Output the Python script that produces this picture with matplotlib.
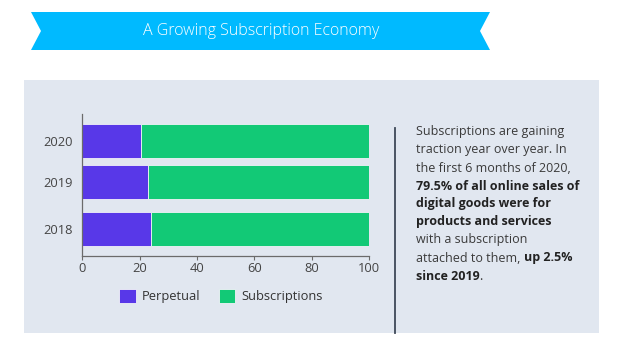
# A growing subscription economy - stacked horizontal bars with a side note
import matplotlib.pyplot as plt
from matplotlib.patches import Polygon, Rectangle

years = ['2018', '2019', '2020']
perpetual = [24, 23, 20.5]
subscriptions = [76, 77, 79.5]
x_ticks = [0, 20, 40, 60, 80, 100]

W, H = 624, 353
PURPLE = '#5838e8'
GREEN = '#12c976'
PANEL = '#e1e7f0'
BLUE = '#00baff'
FONT = 'Open Sans'


def fx(x):
    return x / W


def fy(y):
    return 1 - y / H


fig = plt.figure(figsize=(W / 100, H / 100), dpi=100)
fig.patch.set_facecolor('white')

# background panel
fig.patches.append(Rectangle((fx(24), fy(333)), fx(599) - fx(24), fy(80) - fy(333),
                             transform=fig.transFigure, facecolor=PANEL,
                             edgecolor='none', zorder=-2))

# ribbon banner
pts = [(31, 12), (490, 12), (480, 31), (490, 50), (31, 50), (41, 31)]
fig.patches.append(Polygon([(fx(a), fy(b)) for a, b in pts], closed=True,
                           transform=fig.transFigure, facecolor=BLUE,
                           edgecolor='none', zorder=-1))
fig.text(fx(261), fy(31), 'A Growing Subscription Economy', color='white',
         fontsize=11.5, family=FONT, fontweight='light', ha='center', va='center')

# chart axes
ax = fig.add_axes([fx(82.3), fy(256), fx(369) - fx(82.3), fy(114) - fy(256)])
ax.set_facecolor('none')
ypos = [0, 1.06, 2]  # uneven spacing as in the original
ax.barh(ypos, perpetual, height=0.77, color=PURPLE, edgecolor='#f2f2f8',
        linewidth=0.6, label='Perpetual')
ax.barh(ypos, subscriptions, left=perpetual, height=0.77, color=GREEN,
        edgecolor='#f2f2f8', linewidth=0.6, label='Subscriptions')
ax.set_xlim(0, 100)
ax.set_ylim(-0.61, 2.61)
ax.set_yticks(ypos)
ax.set_yticklabels(years)
ax.set_xticks(x_ticks)
for s in ['top', 'right']:
    ax.spines[s].set_visible(False)
for s in ['left', 'bottom']:
    ax.spines[s].set_color('#6b6b6b')
    ax.spines[s].set_linewidth(0.9)
ax.tick_params(axis='y', length=0, pad=7, labelsize=9.3, labelcolor='#444444')
ax.tick_params(axis='x', length=3, width=0.8, color='#6b6b6b', pad=1,
               labelsize=9.3, labelcolor='#444444')
for lab in ax.get_xticklabels() + ax.get_yticklabels():
    lab.set_family(FONT)

leg = fig.legend(loc='center', bbox_to_anchor=(fx(221), fy(296)), ncol=2,
                 frameon=False, prop={'family': FONT, 'size': 9.3},
                 handlelength=1.3, handleheight=1.3, columnspacing=1.4,
                 handletextpad=0.5)
for t in leg.get_texts():
    t.set_color('#333333')

# divider line
fig.add_artist(plt.Line2D([fx(395), fx(395)], [fy(128), fy(333)],
                          transform=fig.transFigure, color='#3e4858', lw=1.3))

# side note with mixed weights
lines = [
    [('Subscriptions are gaining', 'normal')],
    [('traction year over year. In', 'normal')],
    [('the first 6 months of 2020,', 'normal')],
    [('79.5% of all online sales of', 'bold')],
    [('digital goods were for', 'bold')],
    [('products and services', 'bold')],
    [('with a subscription', 'normal')],
    [('attached to them, ', 'normal'), ('up 2.5%', 'bold')],
    [('since 2019', 'bold'), ('.', 'normal')],
]
y0 = 132
for i, segs in enumerate(lines):
    last = None
    for txt, wt in segs:
        col = '#222222' if wt == 'bold' else '#3a3a3a'
        if last is None:
            last = fig.text(fx(416), fy(y0 + 18 * i), txt, fontsize=9,
                            family=FONT, fontweight=wt, color=col,
                            ha='left', va='center')
        else:
            last = ax.annotate(txt, xy=(1, 0), xycoords=last, va='bottom',
                               ha='left', fontsize=9, family=FONT,
                               fontweight=wt, color=col,
                               annotation_clip=False)

fig.savefig('out.png', dpi=100, facecolor='white')
